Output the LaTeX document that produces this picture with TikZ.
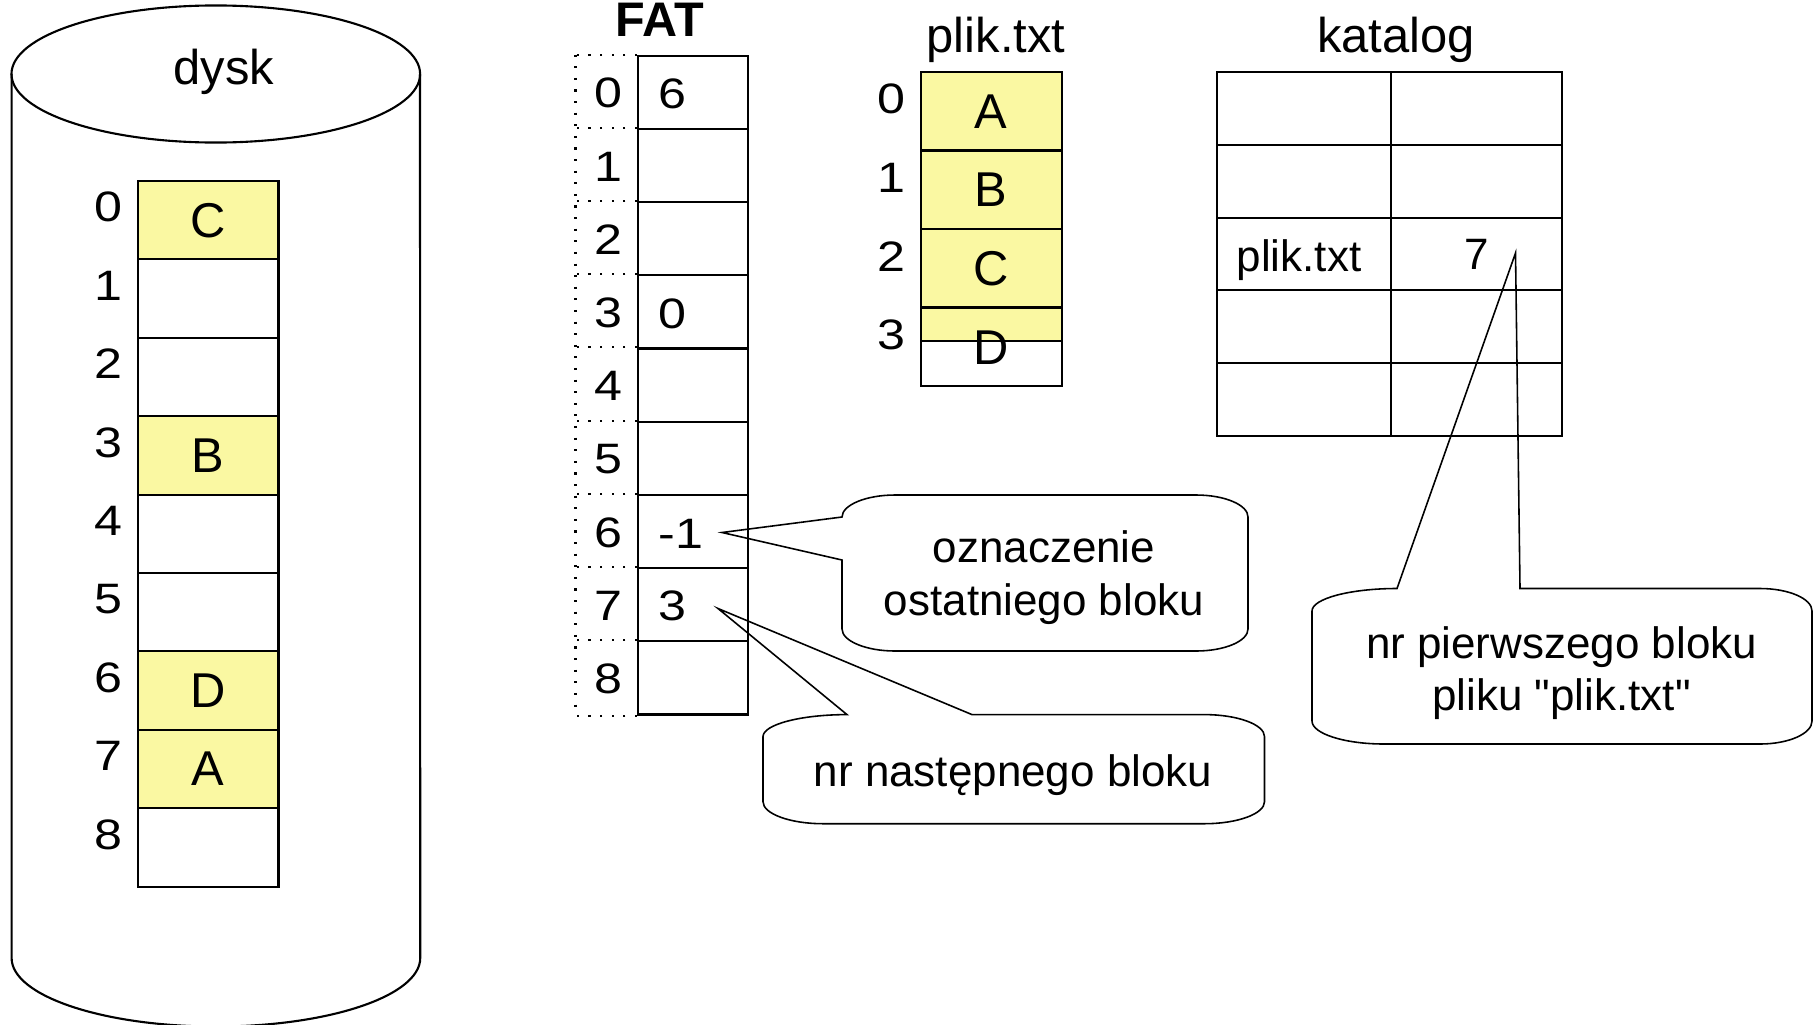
\documentclass[tikz,border=0pt]{standalone}
\usepackage{fontspec}
\setmainfont{Liberation Sans}[Ligatures=TeXOff]
\newfontfamily\widesans[FakeStretch=1.18]{Liberation Sans}
\usetikzlibrary{calc}

\definecolor{blockyellow}{RGB}{250,248,162}

\tikzset{
  frame/.style={draw=black, line width=0.6pt},
  used/.style={fill=blockyellow},
  free/.style={},
  diskcell/.style={frame, rectangle, inner sep=0pt, minimum width=1.404cm, minimum height=0.784cm,
    font=\fontsize{13.9}{16}\selectfont},
  filecell/.style={frame, rectangle, inner sep=0pt, minimum width=1.405cm, minimum height=0.785cm,
    font=\fontsize{13.9}{16}\selectfont},
  fatcell/.style={frame, rectangle, inner sep=0pt, minimum width=1.10cm, minimum height=0.732cm},
  dircell/.style={frame, rectangle, inner sep=0pt, minimum height=0.728cm},
  idx/.style={inner sep=0pt, font=\fontsize{12.1}{14}\widesans},
  letter/.style={inner sep=0pt, font=\fontsize{13.9}{16}\selectfont},
  title/.style={inner sep=0pt, anchor=base, font=\fontsize{13.9}{16}\selectfont},
  note/.style={inner sep=0pt, anchor=base, font=\fontsize{12.5}{15}\selectfont},
  fatdots/.style={line width=0.6pt, dash pattern=on 0.6pt off 2.7pt},
  balloon/.style={draw=black, line width=0.45pt, line join=miter},
}

\begin{document}
\begin{tikzpicture}[x=0.01cm, y=-0.01cm]
\useasboundingbox[fill=white] (0,0) rectangle (1819,1024);

% disk drawn as a cylinder
\draw[frame] (11.6,74) -- (11.6,958)
  arc[start angle=180, end angle=360, x radius=2.042cm, y radius=0.685cm] -- (420,74);
\draw[frame] (215.8,74) ellipse [x radius=2.042cm, y radius=0.685cm];
\node[title] (diskhead) at (224,84) {dysk};

% disk blocks
\foreach \i/\s/\t in {0/used/C, 1/free/, 2/free/, 3/used/B, 4/free/, 5/free/, 6/used/D, 7/used/A, 8/free/} {
  \node[diskcell, \s] (d\i) at (208.2, {181+78.4*(\i+0.5)}) {\t};
  \node[idx] (dl\i) at (108, {181+78.4*(\i+0.5)-13}) {\i};
}

% FAT
\node[title, font=\fontsize{13.8}{16}\bfseries] (fathead) at (660,37) {FAT};
\foreach \i in {0,...,8} {
  \node[fatcell] (f\i) at (693, {55.7+73.2*(\i+0.5)}) {};
  \node[idx] (fi\i) at (608, {55.7+73.2*(\i+0.5)+1}) {\i};
  \draw[fatdots] (f\i.north west) -- ++(-61.4,0);
}
\draw[fatdots] (f8.south west) -- ++(-61.4,0);
\draw[fatdots] ([xshift=-0.614cm]f0.north west) -- ([xshift=-0.614cm]f8.south west);
\node[idx, anchor=west] (fv0) at ([xshift=0.21cm, yshift=-0.02cm]f0.west) {6};
\node[idx, anchor=west] (fv3) at ([xshift=0.21cm, yshift=-0.02cm]f3.west) {0};
\node[idx, anchor=west] (fv6) at ([xshift=0.21cm, yshift=-0.02cm]f6.west) {-1};
\node[idx, anchor=west] (fv7) at ([xshift=0.21cm, yshift=-0.01cm]f7.west) {3};

% file contents
\node[title] (filehead) at (996,52) {plik.txt};
\foreach \i/\t in {0/A, 1/B, 2/C} {
  \node[filecell, used] (p\i) at (991.25, {72+78.5*(\i+0.5)}) {\t};
}
\node[frame, used, inner sep=0pt, minimum width=1.405cm, minimum height=0.335cm] (p3a) at (991.25, 324.25) {};
\node[frame, inner sep=0pt, minimum width=1.405cm, minimum height=0.45cm] (p3b) at (991.25, 363.5) {};
\node[letter] (p3) at (991.25, 347.5) {D};
\foreach \i in {0,...,3} {
  \node[idx] (pl\i) at (891, {72+78.5*(\i+0.5)-12}) {\i};
}

% directory
\node[title] (dirhead) at (1396,52) {katalog};
\foreach \r in {0,...,4} {
  \node[dircell, minimum width=1.74cm] (k\r a) at (1304, {108.4+72.8*\r}) {};
  \node[dircell, minimum width=1.705cm] (k\r b) at (1476.25, {108.4+72.8*\r}) {};
}
\node[note] (kname) at (1299,271) {plik.txt};
\node[inner sep=0pt, font=\fontsize{12.5}{15}\selectfont] (kfirst) at (k2b) {7};

% callouts
\coordinate (tipLast) at (722,532.5);
\coordinate (tipNext) at (718,608.5);
\coordinate (tipFirst) at (1515.5,253);

\draw[balloon] (842,560) -- (842,629)
  .. controls (842,641) and (866,651) .. (895,651) -- (1196,651)
  .. controls (1225,651) and (1248,641) .. (1248,629) -- (1248,517)
  .. controls (1248,505) and (1225,495) .. (1196,495) -- (895,495)
  .. controls (866,495) and (842,505) .. (842,517) -- (tipLast) -- cycle;
\node[note] (last1) at (1044,562.6) {oznaczenie};
\node[note] (last2) at (1044,615) {ostatniego bloku};

\draw[balloon] (972,714.6) -- (1204.5,714.6)
  .. controls (1237.5,714.6) and (1264.5,724.5) .. (1264.5,736.6) -- (1264.5,801.7)
  .. controls (1264.5,813.8) and (1237.5,823.7) .. (1204.5,823.7) -- (823,823.7)
  .. controls (790,823.7) and (763,813.8) .. (763,801.7) -- (763,736.6)
  .. controls (763,724.5) and (800.8,714.6) .. (847,714.6) -- (tipNext) -- cycle;
\node[note] (next1) at (1013,786) {nr następnego bloku};

\draw[balloon] (1520,588.5) -- (1760,588.5)
  .. controls (1788.6,588.5) and (1812,598.6) .. (1812,611) -- (1812,721)
  .. controls (1812,733.65) and (1788.6,744) .. (1760,744) -- (1384,744)
  .. controls (1344.4,744) and (1312,733.65) .. (1312,721) -- (1312,611)
  .. controls (1312,598.6) and (1350.25,588.5) .. (1397,588.5) -- (tipFirst) -- cycle;
\node[note] (first1) at (1561.5,658) {nr pierwszego bloku};
\node[note] (first2) at (1561.5,710) {pliku "plik.txt"};
\end{tikzpicture}
\end{document}
